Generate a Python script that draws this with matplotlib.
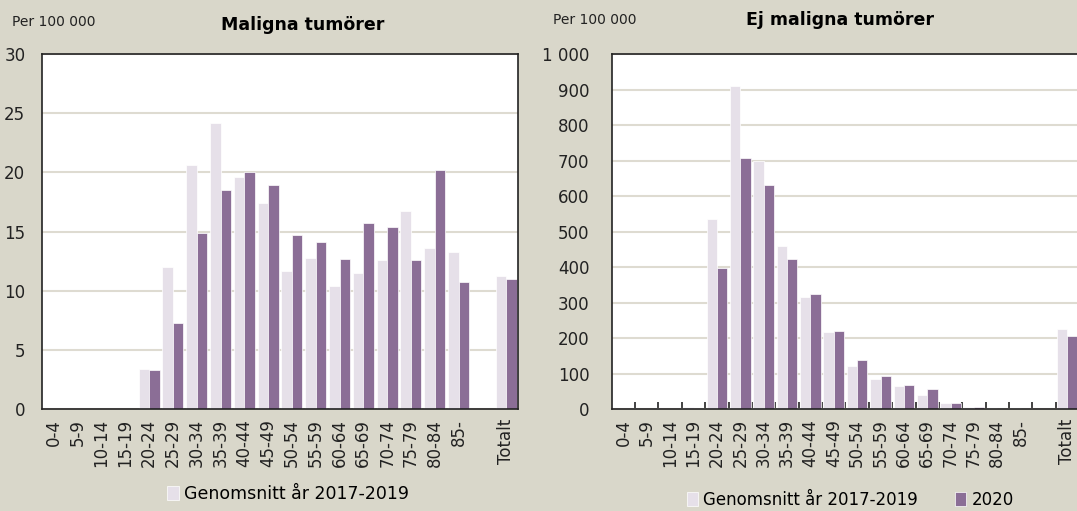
import matplotlib
matplotlib.use('Agg')
import matplotlib.pyplot as plt
import numpy as np
from matplotlib.ticker import FuncFormatter

plt.rcParams['font.family'] = ['DejaVu Sans']

groups = ['0-4', '5-9', '10-14', '15-19', '20-24', '25-29', '30-34', '35-39',
          '40-44', '45-49', '50-54', '55-59', '60-64', '65-69', '70-74',
          '75-79', '80-84', '85-', '', 'Totalt']

# Maligna tumörer, per 100 000
mal_avg = [0, 0, 0, 0, 3.4, 12.0, 20.6, 24.2, 19.6, 17.4, 11.7, 12.8, 10.4,
           11.5, 12.6, 16.7, 13.6, 13.3, 0, 11.2]
mal_2020 = [0, 0, 0, 0, 3.3, 7.3, 14.9, 18.5, 20.0, 18.9, 14.7, 14.1, 12.7,
            15.7, 15.4, 12.6, 20.2, 10.7, 0, 11.0]

# Ej maligna tumörer, per 100 000
ej_avg = [0, 0, 0, 5, 535, 910, 700, 460, 315, 217, 120, 84, 65, 40, 18, 6,
          2, 3, 0, 225]
ej_2020 = [0, 0, 0, 3, 398, 706, 632, 422, 325, 220, 138, 92, 69, 55, 18, 7,
           4, 4, 0, 205]

bg = '#D9D7CA'
c_avg = '#E6E0E9'
c_2020 = '#8B6E96'
grid = '#DEDBD1'

fig = plt.figure(figsize=(10.77, 5.11), dpi=100, facecolor=bg)
ax1 = fig.add_axes([0.039, 0.1996, 0.442, 0.6947])
ax2 = fig.add_axes([0.568, 0.1996, 0.434, 0.6947])

x = np.arange(len(groups))
w = 0.44

def draw(ax, avg, cur, ymax, step, ypad):
    ax.bar(x - w / 2, avg, w, color=c_avg, edgecolor='white', linewidth=0.5,
           label='Genomsnitt år 2017-2019', zorder=2)
    ax.bar(x + w / 2, cur, w, color=c_2020, edgecolor='white', linewidth=0.5,
           label='2020', zorder=2)
    ax.set_xlim(-0.5, len(groups) - 0.5)
    ax.set_ylim(0, ymax)
    ax.set_yticks(np.arange(0, ymax + step, step))
    ax.yaxis.grid(True, color=grid, linewidth=1.5, zorder=0)
    ax.set_axisbelow(True)
    ax.set_xticks(x)
    ax.set_xticklabels(groups, rotation=90, fontsize=12, color='#222222')
    ax.tick_params(axis='y', length=0, pad=ypad, labelsize=12, labelcolor='#222222')
    for s in ax.spines.values():
        s.set_color('#222222')
        s.set_linewidth(1.2)

draw(ax1, mal_avg, mal_2020, 30, 5, 12)
ax1.tick_params(axis='x', length=0, pad=7)

draw(ax2, ej_avg, ej_2020, 1000, 100, 16)
ax2.yaxis.set_major_formatter(FuncFormatter(lambda v, p: f'{int(v):,}'.replace(',', ' ')))
ax2.tick_params(axis='x', which='major', length=0, pad=7)
ax2.set_xticks(np.arange(0.5, len(groups) - 0.5, 1), minor=True)
ax2.tick_params(axis='x', which='minor', direction='in', length=5, width=1.2, color='#222222')
ax2.spines['right'].set_visible(False)

fig.text(0.011, 0.957, 'Per 100 000', fontsize=10, va='center', color='#222222')
fig.text(0.281, 0.952, 'Maligna tumörer', fontsize=12.5, fontweight='bold', ha='center', va='center')
fig.text(0.513, 0.96, 'Per 100 000', fontsize=10, va='center', color='#222222')
fig.text(0.78, 0.96, 'Ej maligna tumörer', fontsize=12.5, fontweight='bold', ha='center', va='center')

h1, l1 = ax1.get_legend_handles_labels()
ax1.legend(h1[:1], l1[:1], loc='center', bbox_to_anchor=(0.517, -0.24), frameon=False,
           fontsize=12.5, handlelength=0.7, handleheight=0.9, handletextpad=0.3)
ax2.legend(loc='center', bbox_to_anchor=(0.51, -0.255), frameon=False, ncol=2,
           fontsize=12, handlelength=0.7, handleheight=0.9, handletextpad=0.3,
           columnspacing=2.2)

fig.savefig('out.png', dpi=100, facecolor=bg)
